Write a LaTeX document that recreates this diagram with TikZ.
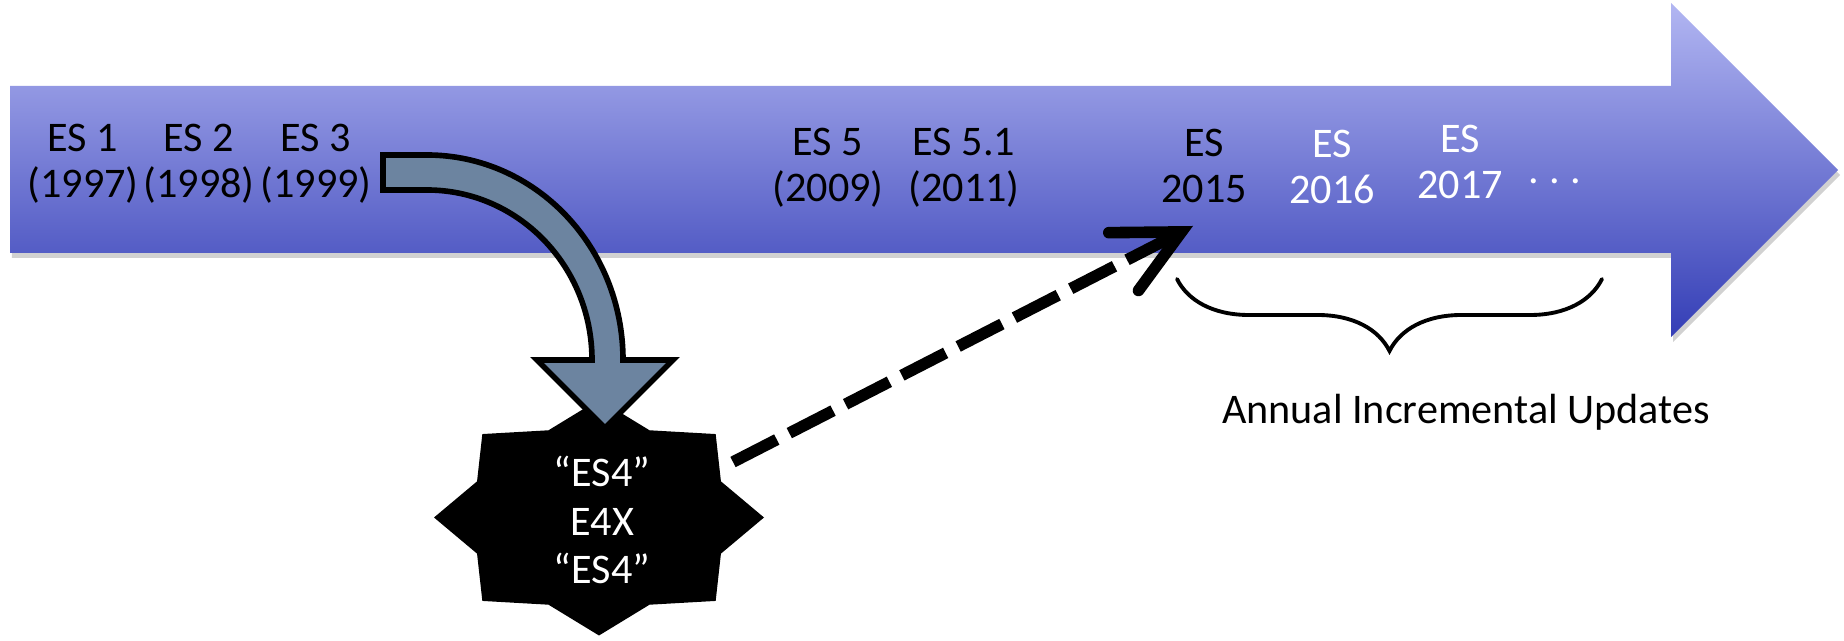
\documentclass[tikz,border=0pt]{standalone}
\usepackage{fontspec}
\setmainfont{Carlito}
\usepackage{tikz}
\usetikzlibrary{arrows.meta}
\usetikzlibrary{decorations.pathreplacing}
\definecolor{shaftlight}{RGB}{178,182,242}
\definecolor{shaftdark}{RGB}{52,62,182}
\definecolor{slate}{RGB}{108,132,160}
\tikzset{
    release/.style={align=center, font=\fontsize{12}{13}\selectfont, inner sep=0pt},
    newrelease/.style={release, text=white},
}

\begin{document}
\begin{tikzpicture}
        \useasboundingbox (0,0) rectangle (18.44,6.41);
        % timeline
        \fill[black!30, opacity=0.6] (0.12,5.50)--(16.73,5.50)--(16.73,6.33)--(18.40,4.66)--(16.73,2.99)--(16.73,3.83)--(0.12,3.83)--cycle;
        \shade[top color=shaftlight, bottom color=shaftdark] (0.10,5.55)--(16.71,5.55)--(16.71,6.38)--(18.38,4.71)--(16.71,3.04)--(16.71,3.88)--(0.10,3.88)--cycle;
        % burst
        \begin{scope}[shift={(5.99,1.235)}]
            \fill (0:1.65 and 1.18) \foreach \k [evaluate=\k as \rx using {1.65-0.33*mod(\k,2)}, evaluate=\k as \ry using {1.18-0.236*mod(\k,2)}] in {1,...,15} {--(\k*22.5:{\rx} and {\ry})} --cycle;
        \end{scope}
        % bent arrow
        \draw[line width=1.6pt, fill=slate, line join=miter] (3.83,4.86)--(4.27,4.86) arc[start angle=90, end angle=0, x radius=1.96, y radius=2.05]--(6.73,2.81)--(6.05,2.13)--(5.37,2.81)--(5.92,2.81) arc[start angle=0, end angle=90, x radius=1.65, y radius=1.70]--(3.83,4.51)--cycle;
        \node[release] (es1) at (0.83,4.77) {ES 1\\(1997)};
        \node[release] (es2) at (1.99,4.77) {ES 2\\(1998)};
        \node[release] (es3) at (3.16,4.77) {ES 3\\(1999)};
        \node[release] (es5) at (8.28,4.73) {ES 5\\(2009)};
        \node[release] (es51) at (9.64,4.73) {ES 5.1\\(2011)};
        \node[release] (es2015) at (12.04,4.75) {ES\\2015};
        \node[newrelease] (es2016) at (13.32,4.74) {ES\\2016};
        \node[newrelease] (es2017) at (14.60,4.79) {ES\\2017};
        \node[newrelease] (more) at (15.55,4.60) {.\hspace{3pt}.\hspace{3pt}.};
        \node[newrelease, font=\fontsize{12}{13.7}\selectfont] (burst) at (6.02,1.21) {“ES4”\\E4X\\“ES4”};
        % jump
        \coordinate (jumpstart) at (7.33,1.79);
        \coordinate (jumpend) at (11.93,4.15);
        \draw[line width=3.3pt, dash pattern=on 14pt off 4pt, -{Straight Barb[length=6.5mm, width=6.5mm, line cap=round]}] (jumpstart)--(jumpend);
        % annual
        \draw[line width=1.1pt, line cap=round, decorate, decoration={brace, amplitude=0.72cm}] (16.02,3.62)--(11.77,3.62);
        \node[font=\fontsize{12}{13}\selectfont, anchor=base] (annual) at (14.66,2.17) {Annual Incremental Updates};
    \end{tikzpicture}
\end{document}
